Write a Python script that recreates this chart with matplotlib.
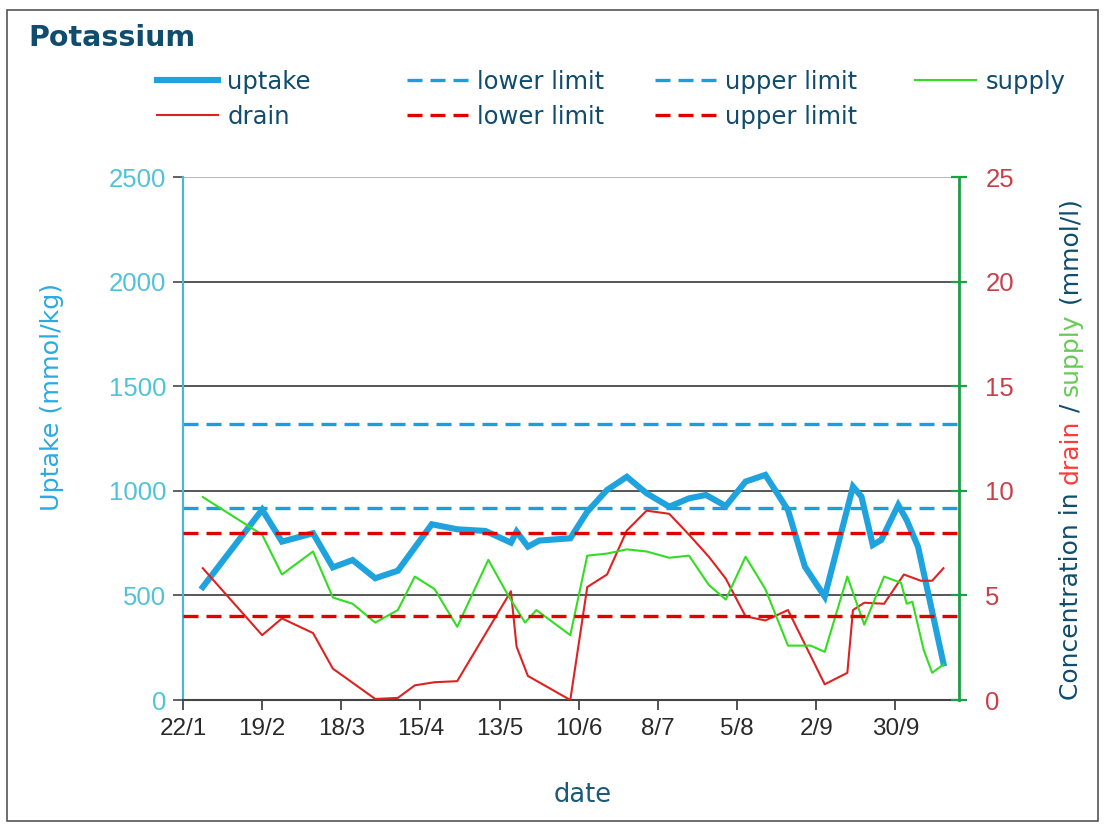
import matplotlib
matplotlib.use("Agg")
import matplotlib.pyplot as plt
from matplotlib.patches import Rectangle

# ---------------- data ----------------
tick_days = [0, 28, 56, 84, 112, 140, 168, 196, 224, 252]
tick_labels = ["22/1", "19/2", "18/3", "15/4", "13/5", "10/6", "8/7", "5/8", "2/9", "30/9"]

uptake_day = [7, 28, 35, 46, 53, 60, 68, 76, 88, 97, 107, 116, 118, 122, 126, 137, 143,
              150, 157, 164, 172, 179, 185, 192, 199, 206, 214, 220, 227, 237, 240, 244,
              247, 253, 256, 260, 269]
uptake = [540, 910, 757, 797, 634, 669, 582, 618, 840, 816, 808, 752, 805, 733, 762, 773, 900,
          1004, 1067, 988, 924, 964, 980, 927, 1044, 1076, 908, 637, 494, 1020, 972, 741,
          765, 932, 860, 733, 175]

supply_day = [7, 28, 35, 46, 53, 60, 68, 76, 82, 89, 97, 108, 115, 121, 125, 137, 143, 150,
              157, 164, 172, 179, 186, 192, 199, 206, 214, 222, 227, 235, 241, 248, 254, 256,
              258, 262, 265, 269]
supply = [9.7, 7.9, 6.0, 7.1, 4.9, 4.6, 3.7, 4.3, 5.9, 5.3, 3.5, 6.7, 5.0, 3.7, 4.3, 3.1, 6.9,
          7.0, 7.2, 7.1, 6.8, 6.9, 5.5, 4.8, 6.85, 5.3, 2.6, 2.6, 2.3, 5.9, 3.6, 5.9, 5.6, 4.6,
          4.7, 2.4, 1.3, 1.7]

drain_day = [7, 28, 35, 46, 53, 68, 76, 82, 89, 97, 116, 118, 122, 137, 143, 150, 157, 164,
             172, 179, 186, 192, 199, 206, 214, 227, 235, 237, 241, 248, 255, 261, 265, 269]
drain = [6.3, 3.1, 3.9, 3.2, 1.5, 0.05, 0.1, 0.7, 0.85, 0.9, 5.2, 2.55, 1.15, 0.0, 5.4, 6.0,
         8.1, 9.05, 8.9, 7.9, 6.85, 5.8, 4.0, 3.8, 4.3, 0.75, 1.3, 4.3, 4.65, 4.6, 6.0, 5.7,
         5.7, 6.3]

uptake_lower, uptake_upper = 920, 1320
drain_lower, drain_upper = 4, 8

# ---------------- style ----------------
C_UPTAKE = "#1fa3de"
C_DRAIN = "#dd2222"
C_SUPPLY = "#33dd22"
C_BLUE_LIM = "#1a9fdc"
C_RED_LIM = "#e00000"
C_TEXT = "#0f4c6e"
C_GREEN_AX = "#1e9e45"

W, H = 1106, 827
fig = plt.figure(figsize=(W / 100, H / 100), dpi=100)
fig.patch.set_facecolor("white")

ax1 = fig.add_axes([183 / W, 1 - 700 / H, (959 - 183) / W, (700 - 177) / H])
ax2 = ax1.twinx()

DASH = (0, (4.5, 2.4))
# uptake axis
ax1.plot(uptake_day, uptake, color=C_UPTAKE, lw=4.4, solid_joinstyle="miter", zorder=3,
         label="uptake")
lb, = ax1.plot([0, 1], [uptake_lower] * 2, transform=ax1.get_yaxis_transform(),
               color=C_BLUE_LIM, lw=2.4, ls=DASH, label="lower limit")
ub, = ax1.plot([0, 1], [uptake_upper] * 2, transform=ax1.get_yaxis_transform(),
               color=C_BLUE_LIM, lw=2.4, ls=DASH, label="upper limit")

# concentration axis
dr, = ax2.plot(drain_day, drain, color=C_DRAIN, lw=1.5, label="drain")
sp, = ax2.plot(supply_day, supply, color=C_SUPPLY, lw=1.5, label="supply")
lr, = ax2.plot([0, 1], [drain_lower] * 2, transform=ax2.get_yaxis_transform(),
               color=C_RED_LIM, lw=2.4, ls=DASH, label="lower limit")
ur, = ax2.plot([0, 1], [drain_upper] * 2, transform=ax2.get_yaxis_transform(),
               color=C_RED_LIM, lw=2.4, ls=DASH, label="upper limit")

ax1.set_xlim(0, 274.5)
ax1.set_ylim(0, 2500)
ax2.set_ylim(0, 25)
ax1.set_xticks(tick_days)
ax1.set_xticklabels(tick_labels)
ax1.set_yticks([0, 500, 1000, 1500, 2000, 2500])
ax2.set_yticks([0, 5, 10, 15, 20, 25])

ax1.grid(axis="y", color="#3a3a3a", lw=1.2, zorder=0)
ax1.set_axisbelow(True)
gl = ax1.get_ygridlines()
gl[-1].set_color("#aaaaaa")

for sp_name in ["top", "right"]:
    ax1.spines[sp_name].set_visible(False)
for sp_name in ["top", "left", "bottom"]:
    ax2.spines[sp_name].set_visible(False)
ax1.spines["left"].set_color("#4ab5d6")
ax1.spines["left"].set_linewidth(1.6)
ax1.spines["bottom"].set_color("#444444")
ax1.spines["bottom"].set_linewidth(1.5)
ax2.spines["right"].set_color(C_GREEN_AX)
ax2.spines["right"].set_linewidth(2.0)

ax1.tick_params(axis="y", direction="out", length=7, width=1.3, color="#555555",
                labelcolor="#4fc3d9", labelsize=18.5, pad=5)
ax1.tick_params(axis="x", direction="out", length=7, width=1.3, color="#444444",
                labelcolor="#2a2a2a", labelsize=17.5, pad=6)
ax2.tick_params(axis="y", direction="inout", length=12, width=1.6, color=C_GREEN_AX,
                labelcolor="#c8404a", labelsize=18.5, pad=13)
for lab in ax1.get_xticklabels() + ax1.get_yticklabels() + ax2.get_yticklabels():
    lab.set_fontfamily("Liberation Sans")

# title
fig.text(28 / W, 1 - 38 / H, "Potassium", fontsize=20.5, fontweight="bold", color=C_TEXT,
         va="center", ha="left", family="DejaVu Sans")

# legends (four columns)
leg_kw = dict(frameon=False, fontsize=17.5, loc="upper left", borderpad=0,
              borderaxespad=0, handlelength=2.5, handletextpad=0.4, labelspacing=0.45,
              labelcolor=C_TEXT)
upt_handle = plt.Line2D([], [], color=C_UPTAKE, lw=4.4)
cols = [([upt_handle, dr], ["uptake", "drain"], 157),
        ([lb, lr], ["lower limit", "lower limit"], 407),
        ([ub, ur], ["upper limit", "upper limit"], 655),
        ([sp], ["supply"], 915)]
for handles, labels, xpx in cols:
    fig.legend(handles, labels, bbox_to_anchor=(xpx / W, 1 - 70 / H), **leg_kw)

# axis labels
fig.text(52 / W, 1 - 397 / H, "Uptake (mmol/kg)", rotation=90, color="#29abe2",
         fontsize=18.3, ha="center", va="center")
fig.text(583 / W, 1 - 795 / H, "date", color="#1a5a7a", fontsize=18.5,
         ha="center", va="center")

# multi-coloured right label
fig.canvas.draw()
renderer = fig.canvas.get_renderer()
parts = [("Concentration in ", C_TEXT), ("drain", "#ff3b3b"), (" / ", C_TEXT),
         ("supply", "#66cc55"), (" (mmol/l)", C_TEXT)]
ypx = H - 700
xb = 1078 / W
for s, c in parts:
    t = fig.text(xb, ypx / H, s, rotation=90, rotation_mode="anchor", ha="left",
                 va="baseline", color=c, fontsize=18)
    bb = t.get_window_extent(renderer)
    ypx += bb.height

# outer frame
fig.add_artist(Rectangle((7 / W, 6 / H), (1098 - 7) / W, (817 - 6) / H,
                         transform=fig.transFigure, fill=False, edgecolor="#555555",
                         lw=1.2))

fig.savefig("out.png", dpi=100)
